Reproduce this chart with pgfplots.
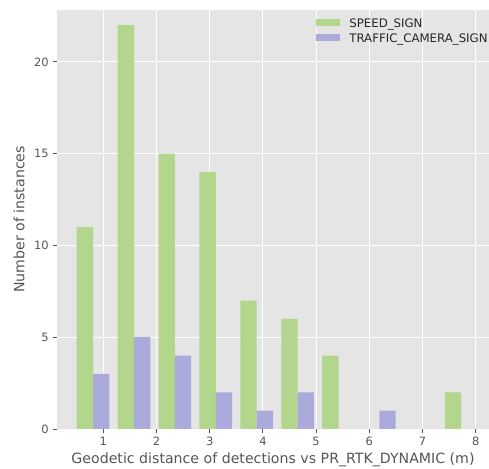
\documentclass[border=0pt]{standalone}
\usepackage{pgfplots}
\pgfplotsset{compat=1.18}
\usepackage{fontspec}
\setmainfont{DejaVu Sans}
\definecolor{bggray}{HTML}{E5E5E5}
\definecolor{tickgray}{HTML}{555555}
\definecolor{speedgreen}{RGB}{178,215,140}
\definecolor{campurple}{RGB}{170,171,218}
\begin{document}
\begin{tikzpicture}
\begin{axis}[
  scale only axis, width=432bp, height=419bp,
  xmin=0.128, xmax=8.25, ymin=0, ymax=22.83,
  axis background/.style={fill=bggray},
  axis line style={draw=none},
  grid=major, major grid style={white, line width=0.9bp},
  xtick={1,2,3,4,5,6,7,8}, ytick={0,5,10,15,20},
  tick align=outside, major tick length=4.2bp,
  tick style={tickgray, line width=0.9bp},
  xtick pos=lower, ytick pos=left,
  ticklabel style={font=\fontsize{11.5}{13}\selectfont, text=tickgray},
  yticklabel style={xshift=-0.5bp},
  /pgf/number format/assume math mode=true,
  xlabel={Geodetic distance of detections vs PR\_RTK\_DYNAMIC (m)},
  ylabel={Number of instances},
  xlabel style={font=\fontsize{14.2}{17}\selectfont, text=tickgray, at={(rel axis cs:0.5,0)}, anchor=center, yshift=-31bp},
  ylabel style={font=\fontsize{14.2}{17}\selectfont, text=tickgray, at={(rel axis cs:0,0.5)}, anchor=center, yshift=38bp},
  ybar, bar width=0.3076, bar shift=0pt,
  legend style={draw=none, fill=none, at={(rel axis cs:0.593,0.988)}, anchor=north west,
    font=\fontsize{11.8}{14}\selectfont, text=black!85, row sep=0bp},
  legend cell align=left,
  legend image code/.code={\fill[#1,draw=none] (0bp,-2bp) rectangle (24bp,5bp); \path (24bp,0bp) -- (31bp,0bp);},
]
\addplot[fill=speedgreen, draw=none] coordinates {
(0.653,11) (1.422,22) (2.191,15) (2.960,14) (3.729,7) (4.498,6) (5.267,4) (7.574,2)};
\addplot[fill=campurple, draw=none] coordinates {
(0.960,3) (1.729,5) (2.498,4) (3.267,2) (4.036,1) (4.805,2) (6.343,1)};
\legend{SPEED\_SIGN, TRAFFIC\_CAMERA\_SIGN}
\coordinate (sw) at (rel axis cs:0,0);
\coordinate (ne) at (rel axis cs:1,1);
\end{axis}
\pgfresetboundingbox
\path ([shift={(-57bp,-40bp)}]sw) rectangle ([shift={(0bp,10bp)}]ne);
\end{tikzpicture}
\end{document}
